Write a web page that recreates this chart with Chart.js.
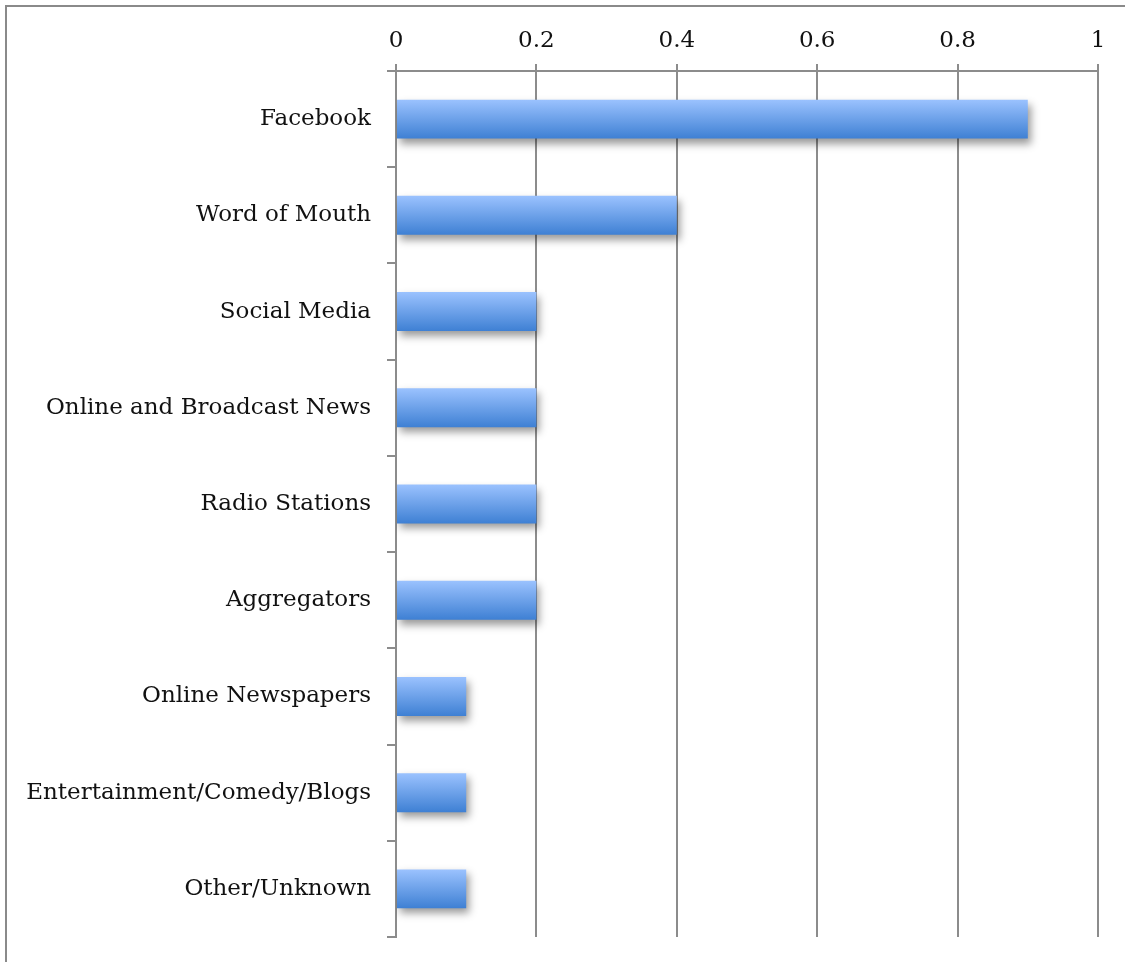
<!DOCTYPE html>
<html>
<head>
<meta charset="utf-8">
<script src="https://cdn.jsdelivr.net/npm/chart.js"></script>
<style>
  html, body { margin: 0; padding: 0; background: #fff; }
  #wrap { width: 1125px; height: 962px; position: relative; }
</style>
</head>
<body>
<div id="wrap"><canvas id="chart" width="1125" height="962"></canvas></div>
<script>
// values
const sources = [
    'Facebook',
    'Word of Mouth',
    'Social Media',
    'Online and Broadcast News',
    'Radio Stations',
    'Aggregators',
    'Online Newspapers',
    'Entertainment/Comedy/Blogs',
    'Other/Unknown'
];
const shares = [0.9, 0.4, 0.2, 0.2, 0.2, 0.2, 0.1, 0.1, 0.1];
const xTicks = [0, 0.2, 0.4, 0.6, 0.8, 1];

const axisGrey = '#8c8c8c';
const labelFont = { family: 'DejaVu Serif', size: 23 };

// vertical gradient for each bar, light on top, darker at the bottom
function barFill(ctx) {
    const chart = ctx.chart;
    const y = chart.scales.y;
    if (!y || ctx.dataIndex === undefined) return '#6a9fe8';
    const c = y.getPixelForValue(ctx.dataIndex);
    if (!isFinite(c)) return '#6a9fe8';
    const g = chart.ctx.createLinearGradient(0, c - 20, 0, c + 20);
    g.addColorStop(0, '#9cc3ff');
    g.addColorStop(1, '#3d7fd3');
    return g;
}

// soft drop shadow under the bars
const barShadow = {
    id: 'barShadow',
    beforeDatasetsDraw(chart) {
        const ctx = chart.ctx;
        ctx.save();
        ctx.shadowColor = 'rgba(0,0,0,0.4)';
        ctx.shadowBlur = 8;
        ctx.shadowOffsetX = 3;
        ctx.shadowOffsetY = 5;
    },
    afterDatasetsDraw(chart) {
        chart.ctx.restore();
    }
};

// frame lines at the top and left of the picture
const frame = {
    id: 'frame',
    beforeDraw(chart) {
        const ctx = chart.ctx;
        ctx.save();
        ctx.strokeStyle = '#8a8a8a';
        ctx.lineWidth = 2;
        ctx.beginPath();
        ctx.moveTo(6, 962);
        ctx.lineTo(6, 6);
        ctx.lineTo(1125, 6);
        ctx.stroke();
        ctx.restore();
    }
};

new Chart(document.getElementById('chart'), {
    type: 'bar',
    data: {
        labels: sources,
        datasets: [{
            data: shares,
            backgroundColor: barFill,
            borderWidth: 0,
            barPercentage: 0.405,
            categoryPercentage: 1
        }]
    },
    options: {
        indexAxis: 'y',
        responsive: false,
        animation: false,
        devicePixelRatio: 1,
        layout: { padding: { top: 0, right: 27, bottom: 25, left: 0 } },
        plugins: {
            legend: { display: false },
            tooltip: { enabled: false }
        },
        scales: {
            x: {
                position: 'top',
                min: 0,
                max: 1,
                afterBuildTicks: (scale) => { scale.ticks = xTicks.map(v => ({ value: v })); },
                afterFit: (scale) => { scale.height = 71; },
                ticks: {
                    color: '#111',
                    font: labelFont,
                    padding: 9,
                    callback: (v) => String(v)
                },
                grid: { color: axisGrey, lineWidth: 2, tickLength: 7 },
                border: { color: axisGrey, width: 2 }
            },
            y: {
                afterFit: (scale) => {
                    scale.width = 396;
                    scale.paddingTop = 0;
                    scale.paddingBottom = 0;
                },
                ticks: {
                    color: '#111',
                    font: labelFont,
                    padding: 16
                },
                grid: {
                    offset: true,
                    drawOnChartArea: false,
                    color: axisGrey,
                    lineWidth: 2,
                    tickLength: 9
                },
                border: { color: axisGrey, width: 2 }
            }
        }
    },
    plugins: [frame, barShadow]
});
</script>
</body>
</html>
